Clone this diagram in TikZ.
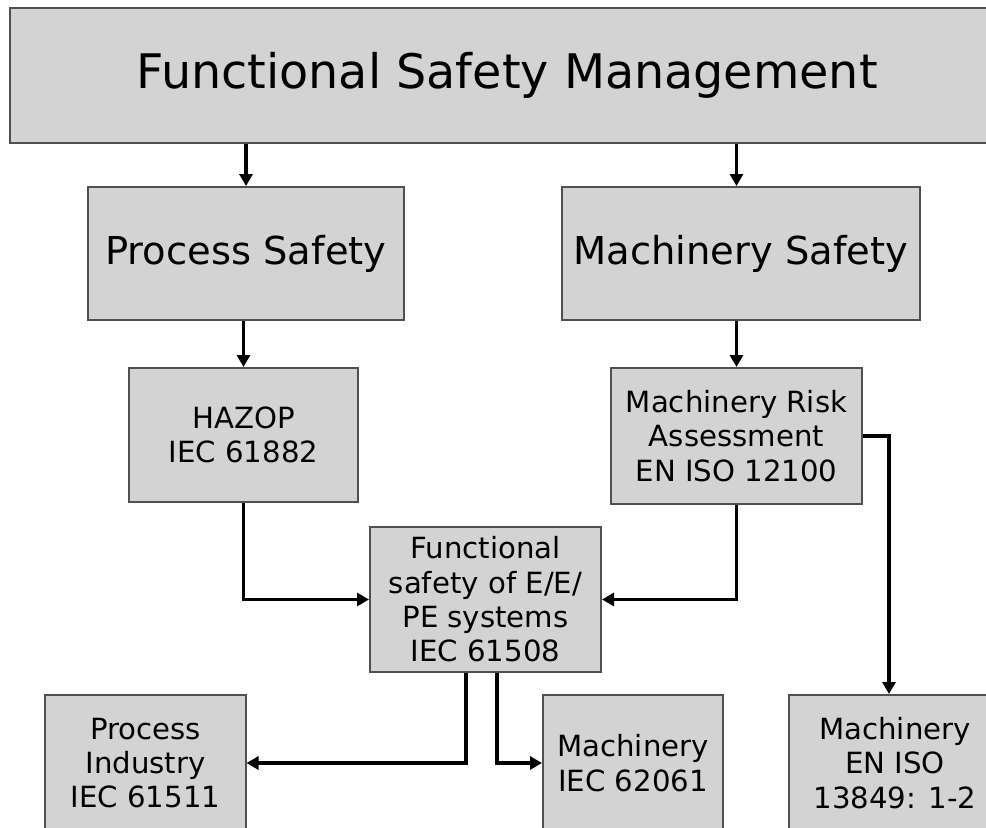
\documentclass[tikz,border=0pt]{standalone}
\usepackage{fontspec}
\setmainfont{DejaVu Sans}
\usetikzlibrary{arrows.meta,calc}
\definecolor{boxfill}{RGB}{211,211,211}
\definecolor{boxline}{RGB}{80,80,80}

\begin{document}
\begin{tikzpicture}[x=1bp,y=-1bp,
  box/.style={draw=boxline, line width=2bp, fill=boxfill, inner sep=0pt,
              align=center, text=black},
  bigtext/.style={font=\fontsize{47.8}{57}\selectfont},
  midtext/.style={font=\fontsize{38.6}{46}\selectfont},
  smalltext/.style={font=\fontsize{29.3}{34.5}\selectfont},
  link/.style={line width=3.2bp, -{Triangle[length=12bp,width=13bp]}},
]
\useasboundingbox (0,0) rectangle (986,828);
\clip (0,0) rectangle (986,828);

% boxes
\node[box,bigtext,minimum width=994bp,minimum height=135bp] (fsm) at (507,75.5)
  {Functional Safety Management};
\node[box,midtext,minimum width=316bp,minimum height=133bp] (ps) at (246,253.5)
  {Process Safety};
\node[box,midtext,minimum width=358bp,minimum height=133bp] (ms) at (741,253.5)
  {Machinery Safety};
\node[box,smalltext,minimum width=229bp,minimum height=134bp] (hz) at (243.5,435)
  {HAZOP\\IEC 61882};
\node[box,smalltext,minimum width=251bp,minimum height=136bp] (mra) at (736.5,436)
  {Machinery Risk\\Assessment\\EN ISO 12100};
\node[box,smalltext,minimum width=231bp,minimum height=145bp] (fs) at (485.5,599.5)
  {Functional\\safety of E/E/\\PE systems\\IEC 61508};
\node[box,smalltext,minimum width=200bp,minimum height=136bp] (pi) at (145.5,763)
  {Process\\Industry\\IEC 61511};
\node[box,smalltext,minimum width=180bp,minimum height=136bp] (m62) at (633,763)
  {Machinery\\IEC 62061};
\node[box,smalltext,minimum width=212bp,minimum height=136bp] (men) at (895,763)
  {Machinery\\EN ISO\\13849: 1-2};

% connectors
\draw[link] (fsm.south -| ps) -- (ps.north);
\draw[link] (fsm.south -| mra) -- (ms.north -| mra);
\draw[link] (ps.south -| hz.north) -- (hz.north);
\draw[link] (ms.south -| mra) -- (mra.north);
\draw[link] (hz.south) |- (fs.west);
\draw[link] (mra.south) |- (fs.east);
\coordinate (mraout) at ($(mra.east)+(26,0)$);
\draw[link] (mra.east) -- (mraout) -- (mraout |- men.north);
\coordinate (fsl) at ($(fs.south)+(-19.5,0)$);
\coordinate (fsr) at ($(fs.south)+(11.5,0)$);
\draw[link] (fsl) |- (pi.east);
\draw[link] (fsr) |- (m62.west);
\end{tikzpicture}
\end{document}
